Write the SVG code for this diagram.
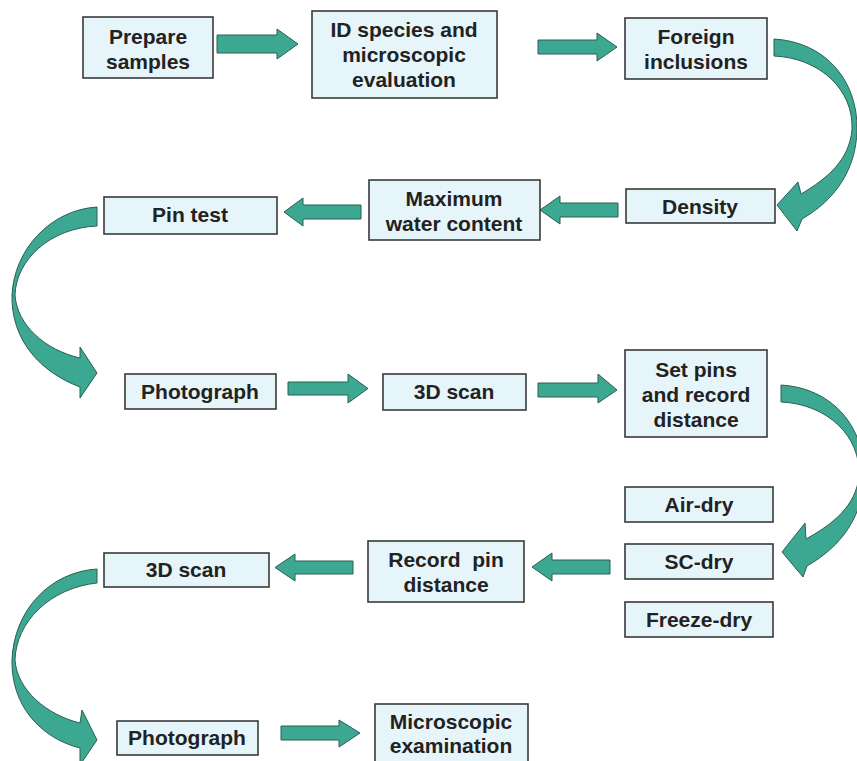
<svg xmlns="http://www.w3.org/2000/svg" width="857" height="761" viewBox="0 0 857 761">
<style>
.box{fill:#e6f5f9;stroke:#3a3a3a;stroke-width:1.6}
.t{font-family:"Liberation Sans",Arial,sans-serif;font-weight:bold;font-size:21px;fill:#222222;text-anchor:middle}
.arr{fill:#3da891;stroke:#2b5f54;stroke-width:1;stroke-linejoin:round}
</style>
<rect width="857" height="761" fill="#ffffff"/>
<g id="connectors">
<polygon class="arr" points="217,35 277,35 277,29 298,44 277,59 277,53 217,53"/>
<polygon class="arr" points="538,40 597,40 597,33 617,47 597,61 597,54 538,54"/>
<polygon class="arr" points="618,203 560,203 560,196 540,210 560,224 560,217 618,217"/>
<polygon class="arr" points="361,205 303,205 303,198 284,212 303,226 303,219 361,219"/>
<polygon class="arr" points="288,382 348,382 348,374 368,388.5 348,403 348,395 288,395"/>
<polygon class="arr" points="538,383 598,383 598,374 617,390 598,403 598,397 538,397"/>
<polygon class="arr" points="610,560 552,560 552,553 532,567 552,581 552,574 610,574"/>
<polygon class="arr" points="353,561 295,561 295,554 275,567.5 295,581 295,574 353,574"/>
<polygon class="arr" points="281,726 339,726 339,720 360,733 339,747 339,740 281,740"/>
<path class="arr" d="M774,39 C825,42 858,80 857,130 C856,170 835,200 802,219 L797,231 L777,205 L798,182 L801,194 C828,178 849,160 852,130 C854,90 820,58 774,56 Z"/>
<path class="arr" d="M781,385 C832,388 865,426 864,476 C863,516 842,546 807,566 L803,577 L782,552 L805,523 L806,539 C833,524 856,506 859,476 C861,436 827,404 781,402 Z"/>
<path class="arr" d="M97,207 C50,210 14,250 12,295 C11,340 40,372 80,387 L80,398 L97,373 L80,347 L80,358 C45,350 17,325 15,295 C16,260 50,228 97,226 Z"/>
<path class="arr" d="M97,569 C50,572 14,610 12,660 C11,705 40,738 80,748 L80,765 L97,740 L82,710 L80,723 C47,715 17,690 15,660 C16,622 50,588 97,583 Z"/>
</g>
<g id="prepare"><rect class="box" x="83" y="17" width="130" height="61"/><text class="t" x="148" y="44">Prepare</text><text class="t" x="148" y="69">samples</text></g>
<g id="idspecies"><rect class="box" x="312" y="11" width="185" height="87"/><text class="t" x="404" y="37">ID species and</text><text class="t" x="404" y="62">microscopic</text><text class="t" x="404" y="87">evaluation</text></g>
<g id="foreign"><rect class="box" x="625" y="18" width="142" height="61"/><text class="t" x="696" y="44">Foreign</text><text class="t" x="696" y="69">inclusions</text></g>
<g id="density"><rect class="box" x="626" y="189" width="149" height="34"/><text class="t" x="700" y="214">Density</text></g>
<g id="maxwater"><rect class="box" x="369" y="180" width="171" height="60"/><text class="t" x="454" y="206">Maximum</text><text class="t" x="454" y="231">water content</text></g>
<g id="pintest"><rect class="box" x="104" y="197" width="173" height="37"/><text class="t" x="190" y="222">Pin test</text></g>
<g id="photo1"><rect class="box" x="125" y="374" width="151" height="35"/><text class="t" x="200" y="399">Photograph</text></g>
<g id="scan1"><rect class="box" x="383" y="374" width="143" height="36"/><text class="t" x="454" y="399">3D scan</text></g>
<g id="setpins"><rect class="box" x="625" y="350" width="142" height="87"/><text class="t" x="696" y="377">Set pins</text><text class="t" x="696" y="402">and record</text><text class="t" x="696" y="427">distance</text></g>
<g id="airdry"><rect class="box" x="625" y="487" width="148" height="35"/><text class="t" x="699" y="512">Air-dry</text></g>
<g id="scdry"><rect class="box" x="625" y="544" width="148" height="35"/><text class="t" x="699" y="569">SC-dry</text></g>
<g id="freezedry"><rect class="box" x="625" y="602" width="148" height="35"/><text class="t" x="699" y="627">Freeze-dry</text></g>
<g id="recordpin"><rect class="box" x="368" y="541" width="156" height="61"/><text class="t" x="446" y="567" xml:space="preserve">Record  pin</text><text class="t" x="446" y="592">distance</text></g>
<g id="scan2"><rect class="box" x="104" y="553" width="165" height="34"/><text class="t" x="186" y="577">3D scan</text></g>
<g id="photo2"><rect class="box" x="117" y="721" width="141" height="34"/><text class="t" x="187" y="745">Photograph</text></g>
<g id="microscopic"><rect class="box" x="375" y="704" width="153" height="62"/><text class="t" x="451" y="729">Microscopic</text><text class="t" x="451" y="753">examination</text></g>
</svg>
